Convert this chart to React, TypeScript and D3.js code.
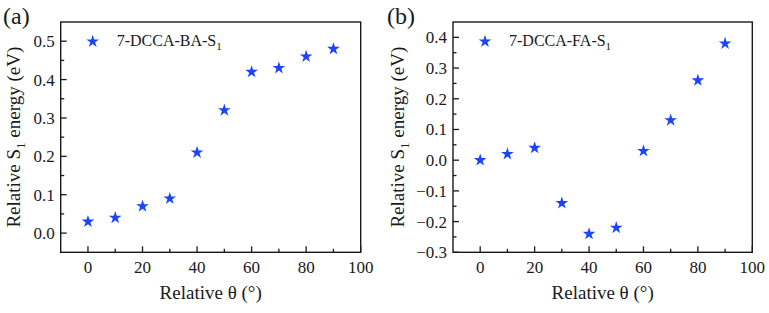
import React from "react";
import * as d3 from "d3";

const anglesA = [0, 10, 20, 30, 40, 50, 60, 70, 80, 90];
const energiesA = [0.03, 0.04, 0.07, 0.09, 0.21, 0.32, 0.42, 0.43, 0.46, 0.48];
const anglesB = [0, 10, 20, 30, 40, 50, 60, 70, 80, 90];
const energiesB = [0.0, 0.02, 0.04, -0.14, -0.24, -0.22, 0.03, 0.13, 0.26, 0.38];
const xTicks = [0, 20, 40, 60, 80, 100];
const xMinor = [10, 30, 50, 70, 90];
const yTicksA = [0.0, 0.1, 0.2, 0.3, 0.4, 0.5];
const yTicksB = [-0.3, -0.2, -0.1, 0.0, 0.1, 0.2, 0.3, 0.4];
const seriesA = "7-DCCA-BA-S";
const seriesB = "7-DCCA-FA-S";

const FONT = "'Liberation Serif', 'DejaVu Serif', serif";
const BLUE = "#1a44ff";
const INK = "#1a1a1a";

type PanelProps = {
  left: number;
  right: number;
  top: number;
  bottom: number;
  xs: number[];
  ys: number[];
  yDomain: [number, number];
  yTicks: number[];
  legend: string;
  tag: string;
  tagX: number;
  yLabelX: number;
};

const fmt = d3.format(".1f");
const star = d3.symbol().type(d3.symbolStar).size(50);
const ts = { fontFamily: FONT };

function Panel(p: PanelProps) {
  const x = d3.scaleLinear().domain([-10, 100]).range([p.left, p.right]);
  const y = d3.scaleLinear().domain(p.yDomain).range([p.bottom, p.top]);
  const yMinor: number[] = [];
  for (let i = 0; i < p.yTicks.length; i++) {
    const v = p.yTicks[i] + 0.05;
    if (v < p.yDomain[1] - 1e-9) yMinor.push(v);
  }
  const v0 = p.yTicks[0] - 0.05;
  if (v0 > p.yDomain[0] + 1e-9) yMinor.push(v0);
  const cx = (p.left + p.right) / 2;
  const cy = (p.top + p.bottom) / 2;
  const starPath = star() as string;
  return (
    <g fill={INK}>
      <text x={p.tagX} y={24} fontSize={24} style={ts}>{p.tag}</text>
      {xTicks.map((t) => (
        <g key={"xt" + t}>
          <line x1={x(t)} x2={x(t)} y1={p.bottom} y2={p.bottom - 6} stroke={INK} strokeWidth={1.3} />
          <text x={x(t)} y={p.bottom + 21} fontSize={17} textAnchor="middle" style={ts}>{t}</text>
        </g>
      ))}
      {xMinor.map((t) => (
        <line key={"xm" + t} x1={x(t)} x2={x(t)} y1={p.bottom} y2={p.bottom - 3.5} stroke={INK} strokeWidth={1.3} />
      ))}
      {p.yTicks.map((t) => (
        <g key={"yt" + t}>
          <line x1={p.left} x2={p.left + 6} y1={y(t)} y2={y(t)} stroke={INK} strokeWidth={1.3} />
          <text x={p.left - 6} y={y(t)} dy="0.35em" fontSize={17} textAnchor="end" style={ts}>{fmt(t)}</text>
        </g>
      ))}
      {yMinor.map((t) => (
        <line key={"ym" + t} x1={p.left} x2={p.left + 3.5} y1={y(t)} y2={y(t)} stroke={INK} strokeWidth={1.3} />
      ))}
      <rect x={p.left} y={p.top} width={p.right - p.left} height={p.bottom - p.top} fill="none" stroke={INK} strokeWidth={1.4} />
      {p.xs.map((a, i) => (
        <path key={"pt" + i} d={starPath} transform={`translate(${x(a)},${y(p.ys[i])})`} fill={BLUE} />
      ))}
      <path d={starPath} transform={`translate(${p.left + 32},${p.top + 19.5})`} fill={BLUE} />
      <text x={p.left + 56} y={p.top + 23.5} fontSize={16} style={ts}>
        {p.legend}
        <tspan fontSize={11} dy={4}>1</tspan>
      </text>
      <text x={cx} y={299} fontSize={19} textAnchor="middle" style={ts}>Relative θ (°)</text>
      <text transform={`translate(${p.yLabelX},${cy}) rotate(-90)`} fontSize={19} textAnchor="middle" style={ts}>
        Relative S<tspan fontSize={13} dy={5}>1</tspan>
        <tspan dy={-5}> energy (eV)</tspan>
      </text>
    </g>
  );
}

export default function App() {
  return (
    <svg width={769} height={313} style={{ position: "absolute", left: 0, top: 0, background: "#fff", fontFamily: FONT }}>
      <rect width={769} height={313} fill="#fff" />
      <Panel left={60.7} right={360.7} top={22} bottom={252.3} xs={anglesA} ys={energiesA}
        yDomain={[-0.05, 0.55]} yTicks={yTicksA} legend={seriesA} tag="(a)" tagX={3} yLabelX={20} />
      <Panel left={453} right={752.3} top={22} bottom={252.3} xs={anglesB} ys={energiesB}
        yDomain={[-0.3, 0.45]} yTicks={yTicksB} legend={seriesB} tag="(b)" tagX={387} yLabelX={404} />
    </svg>
  );
}
